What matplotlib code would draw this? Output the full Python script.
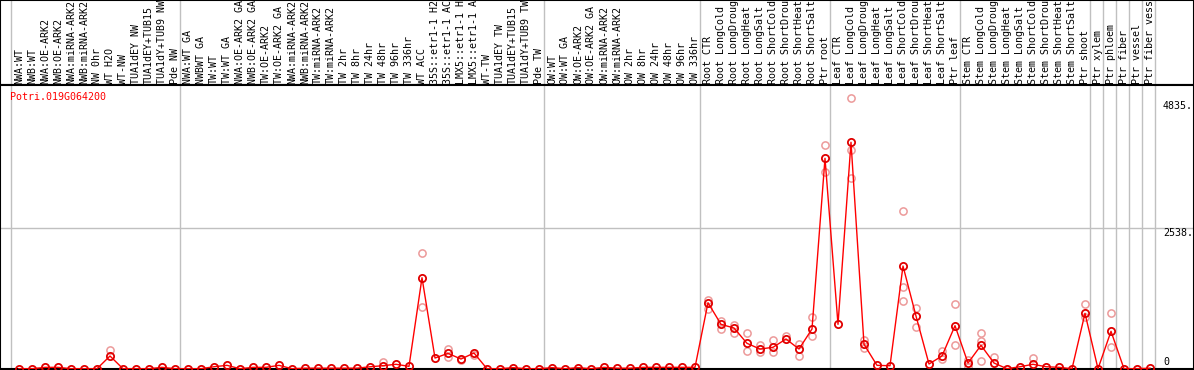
import matplotlib.pyplot as plt
import numpy as np

# sample labels, as shown (truncated to 14 chars in the source)
labels = [
    "NWA:WT", "NWB:WT", "NWA:OE-ARK2", "NWB:OE-ARK2", "NWA:miRNA-ARK2", "NWB:miRNA-ARK2",
    "NW 0hr", "WT H2O", "WT-NW", "TUA1dEY NW", "TUA1dEY+TUB15", "TUA1dY+TUB9 NW", "Pde NW",
    "NWA:WT GA", "NWBWT GA", "TW:WT", "TW:WT GA", "NWA:OE-ARK2 GA", "NWB:OE-ARK2 GA",
    "TW:OE-ARK2", "TW:OE-ARK2 GA", "NWA:miRNA-ARK2", "NWB:miRNA-ARK2", "TW:miRNA-ARK2",
    "TW:miRNA-ARK2", "TW 2hr", "TW 8hr", "TW 24hr", "TW 48hr", "TW 96hr", "TW 336hr",
    "WT ACC", "35S::etr1-1 H2", "35S::etr1-1 AC", "LMX5::etr1-1 H", "LMX5::etr1-1 A",
    "WT-TW", "TUA1dEY TW", "TUA1dEY+TUB15", "TUA1dY+TUB9 TW", "Pde TW",
    "OW:WT", "OW:WT GA", "OW:OE-ARK2", "OW:OE-ARK2 GA", "OW:miRNA-ARK2", "OW:miRNA-ARK2",
    "OW 2hr", "OW 8hr", "OW 24hr", "OW 48hr", "OW 96hr", "OW 336hr",
    "Root CTR", "Root LongCold", "Root LongDroug", "Root LongHeat", "Root LongSalt",
    "Root ShortCold", "Root ShortDrou", "Root ShortHeat", "Root ShortSalt", "Ptr root",
    "Leaf CTR", "Leaf LongCold", "Leaf LongDroug", "Leaf LongHeat", "Leaf LongSalt",
    "Leaf ShortCold", "Leaf ShortDrou", "Leaf ShortHeat", "Leaf ShortSalt", "Ptr leaf",
    "Stem CTR", "Stem LongCold", "Stem LongDroug", "Stem LongHeat", "Stem LongSalt",
    "Stem ShortCold", "Stem ShortDrou", "Stem ShortHeat", "Stem ShortSalt", "Ptr shoot",
    "Ptr xylem", "Ptr phloem", "Ptr fiber", "Ptr vessel", "Ptr fiber vess",
]

# mean expression per sample
means = [
    0, 0, 25, 25, 0, 0, 0, 230, 0, 0, 0, 25, 0,
    0, 0, 36, 61, 0, 25, 25, 61, 0, 10, 10, 10, 10, 10, 35, 55, 80, 43,
    1645, 193, 278, 175, 284, 0, 0, 20, 0, 0,
    20, 0, 20, 0, 25, 10, 10, 25, 25, 25, 25, 25,
    1193, 802, 736, 459, 356, 387, 537, 356, 718, 3803,
    802, 4093, 441, 61, 54, 1856, 952, 85, 230, 778,
    103, 423, 103, 0, 36, 80, 36, 25, 0, 1001,
    0, 676, 0, 0, 10,
]

# individual replicates that stand apart from the mean
rep_idx = [7, 28, 31, 31, 33, 33, 34, 35,
           53, 53, 54, 54, 55, 55, 56, 56, 57, 57, 58, 58, 59, 60, 60, 61, 61,
           62, 62, 64, 64, 64, 65, 65, 68, 68, 68, 69, 69, 71, 71, 72, 72,
           73, 73, 74, 74, 74, 75, 78, 82, 82, 84, 84]
rep_val = [338, 115, 2086, 1110, 350, 217, 150, 240,
           1242, 1079, 868, 723, 784, 640, 640, 325, 428, 302, 519, 307, 591, 446, 235, 929, 591,
           4043, 3550, 4888, 3953, 3442, 519, 369, 2856, 1471, 1224, 1103, 760, 325, 170, 1170, 423,
           150, 40, 640, 500, 139, 217, 188, 1170, 929, 1007, 387]

# first sample of each group
group_starts = [0, 13, 41, 53, 63, 73, 83, 84, 85, 86, 87, 88]
gridline_val = 2538
max_val = 4835
gene = "Potri.019G064200"

W, H = 1194, 370
HEAD = 85
x0_px, step_px = 19, 13

fig = plt.figure(figsize=(W / 100, H / 100), dpi=100)
ax_h = fig.add_axes([0, (H - HEAD) / H, 1, HEAD / H])
ax = fig.add_axes([0, 1 / H, 1, (H - HEAD - 1) / H])

xlim = (-x0_px / step_px, (W - x0_px) / step_px)
font = dict(family="DejaVu Sans Mono", size=7.2)

# header with rotated sample names
ax_h.set_xlim(*xlim)
ax_h.set_ylim(0, HEAD)
for i, lab in enumerate(labels):
    ax_h.text(i, 1.2, lab, rotation=90, ha="center", va="bottom",
              color="black", clip_on=True, **font)

# plot area
ax.set_xlim(*xlim)
ax.set_ylim(-5, 5128)
ax.axhline(gridline_val, color="#c0c0c0", lw=1, zorder=0)

for a in (ax, ax_h):
    for g in group_starts:
        a.axvline(g - 0.58, color="#c0c0c0", lw=1, zorder=0)
    a.set_xticks([])
    a.set_yticks([])
    for s in a.spines.values():
        s.set_color("black")
        s.set_linewidth(1.5)

x = np.arange(len(means))
ax.plot(rep_idx, rep_val, "o", ms=5.2, mfc="none", mec="#ec9a9a", mew=1.1, zorder=2)
ax.plot(x, means, "-", color="red", lw=1, zorder=3)
ax.plot(x, means, "o", ms=5.2, mfc="none", mec="#e00000", mew=1.3, zorder=4)

ax.text(-0.69, 1 - 12 / (H - HEAD), gene, transform=ax.get_xaxis_transform(),
        color="red", ha="left", va="center", **font)

tx = (1163 - x0_px) / step_px
ax.text(tx, max_val, f"{max_val}.", ha="left", va="top", color="black", **font)
ax.text(tx, gridline_val, f"{gridline_val}.", ha="left", va="top", color="black", **font)
ax.text(tx, 40, "0", ha="left", va="bottom", color="black", **font)

plt.savefig("out.png", dpi=100)
